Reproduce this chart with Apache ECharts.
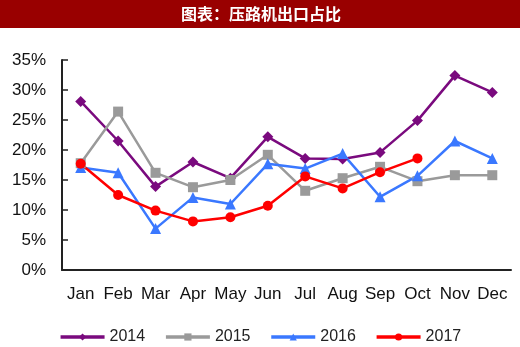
<!DOCTYPE html>
<html><head><meta charset="utf-8">
<script src="https://cdn.jsdelivr.net/npm/echarts@6/dist/echarts.min.js"></script>
<style>html,body{margin:0;padding:0;background:#fff}#c{width:520px;height:347px}</style>
</head><body><div id="c"></div>
<script>
var months = ['Jan','Feb','Mar','Apr','May','Jun','Jul','Aug','Sep','Oct','Nov','Dec'];
var s2014 = [28.1,21.5,13.9,18.0,15.3,22.2,18.6,18.5,19.6,24.9,32.4,29.6];
var s2015 = [17.8,26.4,16.2,13.8,15.0,19.2,13.2,15.3,17.2,14.8,15.8,15.8];
var s2016 = [17.1,16.2,6.9,12.1,11.0,17.7,16.9,19.4,12.2,15.7,21.5,18.6];
var s2017 = [17.7,12.5,9.9,8.1,8.8,10.7,15.6,13.6,16.3,18.6];
var title = '图表：压路机出口占比';

function mk(name, data, color, symbol, size){
  return {name:name, type:'line', data:data, symbol:symbol, symbolSize:size,
    lineStyle:{color:color,width:2.5}, itemStyle:{color:color}, showSymbol:true};
}
var chart = echarts.init(document.getElementById('c'));
chart.setOption({
  animation:false,
  graphic:[
    {type:'rect',shape:{x:0,y:0,width:520,height:28},style:{fill:'#990000'},z:0},
    {type:'text',x:261,y:14,style:{text:title,fill:'#fff',font:'bold 16px "Noto Sans CJK SC"',align:'center',verticalAlign:'middle'},z:1}
  ],
  grid:{left:62,right:9,top:60,bottom:77},
  legend:{bottom:-3,left:'center',itemWidth:44,itemHeight:9,itemGap:19,
    lineStyle:{width:3.5},
    textStyle:{fontSize:16,color:'#222',fontFamily:'Liberation Sans'},
    data:['2014','2015','2016','2017']},
  xAxis:{type:'category',data:months,boundaryGap:true,
    axisLine:{lineStyle:{color:'#222',width:2}},
    axisTick:{inside:true,length:6,lineStyle:{color:'#222',width:1.5}},
    axisLabel:{fontSize:17,color:'#111',fontFamily:'Liberation Sans',margin:16,interval:0}},
  yAxis:{type:'value',min:0,max:35,interval:5,
    axisLine:{show:true,lineStyle:{color:'#222',width:2}},
    axisTick:{show:true,inside:true,length:6,lineStyle:{color:'#222',width:1.5}},
    splitLine:{show:false},
    axisLabel:{fontSize:17,color:'#111',fontFamily:'Liberation Sans',margin:16,formatter:'{value}%'}},
  series:[
    mk('2014',s2014,'#7a0a7e','diamond',11),
    mk('2015',s2015,'#9a9a9a','rect',10),
    mk('2016',s2016,'#3a78ff','triangle',11),
    mk('2017',s2017,'#ff0000','circle',10)
  ]
});
</script></body></html>
